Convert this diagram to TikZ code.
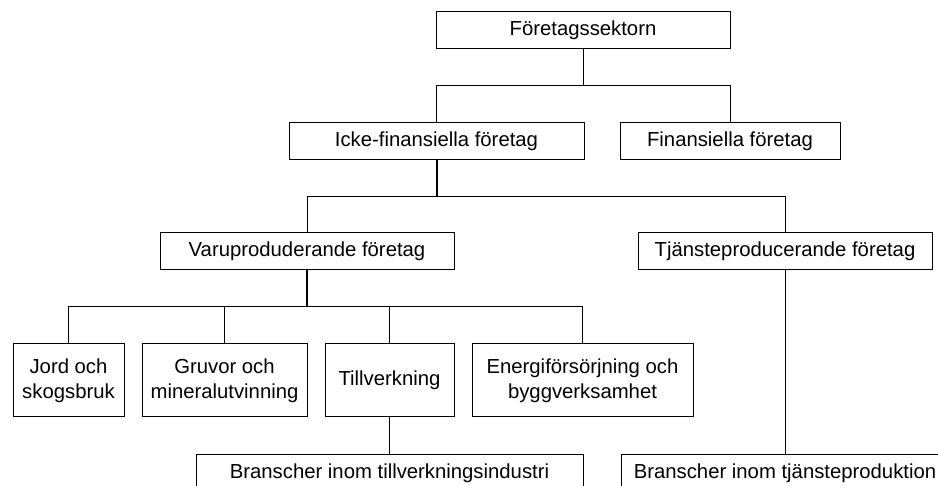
\documentclass[tikz,border=0pt]{standalone}
\usepackage{fontspec}
\setmainfont{Liberation Sans}
\begin{document}
\begin{tikzpicture}[x=0.5pt, y=-0.5pt, line width=0.5pt,
    box/.style={draw, rectangle, inner sep=0pt, align=center, minimum height=18.5pt, font=\fontsize{10.15}{12.5}\selectfont},
    tallbox/.style={box, minimum height=36.5pt},
    trunk/.style={line width=1pt}]
        \path[use as bounding box, clip] (0,0) rectangle (938,486);
        \node[box, minimum width=147pt] (sektor) at (583,30.5) {Företagssektorn};
        \node[box, minimum width=147.5pt] (icke) at (436.5,141.5) {Icke-finansiella företag};
        \node[box, minimum width=110pt] (fin) at (730,141.5) {Finansiella företag};
        \node[box, minimum width=147pt] (varu) at (307,251.5) {Varuproduderande företag};
        \node[box, minimum width=147pt] (tjanst) at (785,251.5) {Tjänsteproducerande företag};
        \node[tallbox, minimum width=55.5pt] (jord) at (68.5,380.5) {Jord och\\skogsbruk};
        \node[tallbox, minimum width=82.5pt] (gruv) at (224.5,380.5) {Gruvor och\\mineralutvinning};
        \node[tallbox, minimum width=64.5pt] (till) at (389.5,380.5) {Tillverkning};
        \node[tallbox, minimum width=110.5pt] (energi) at (582.5,380.5) {Energiförsörjning och\\byggverksamhet};
        \node[box, minimum width=193.5pt] (btill) at (389.5,473.5) {Branscher inom tillverkningsindustri};
        \node[box, minimum width=164pt] (btjanst) at (785,473.5) {Branscher inom tjänsteproduktion};
        \coordinate (b1) at (0,86);
        \coordinate (b2) at (0,196.5);
        \coordinate (b3) at (0,307);
        \draw (sektor.south) -- (sektor.south |- b1);
        \draw (icke.north) |- (fin.north |- b1) -- (fin.north);
        \draw[trunk] (icke.south) -- (icke.south |- b2);
        \draw (varu.north) |- (tjanst.north |- b2) -- (tjanst.north);
        \draw[trunk] (varu.south) -- (varu.south |- b3);
        \draw (jord.north) |- (energi.north |- b3) -- (energi.north);
        \draw (gruv.north) -- (gruv.north |- b3);
        \draw (till.north) -- (till.north |- b3);
        \draw (till.south) -- (btill.north);
        \draw (tjanst.south) -- (btjanst.north);
\end{tikzpicture}
\end{document}
